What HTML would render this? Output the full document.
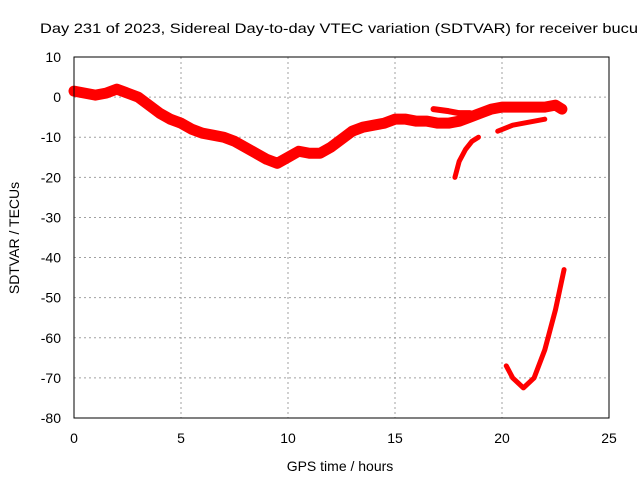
<!DOCTYPE html>
<html><head><meta charset="utf-8"><style>
body{margin:0;background:#fff;}
svg{display:block;font-family:"Liberation Sans",sans-serif;}
</style></head><body>
<svg id="c" width="640" height="480" viewBox="0 0 640 480">
<text x="40" y="33" font-size="14" textLength="598" lengthAdjust="spacingAndGlyphs">Day 231 of 2023, Sidereal Day-to-day VTEC variation (SDTVAR) for receiver bucu</text>
<text x="340" y="471" font-size="14" text-anchor="middle">GPS time / hours</text>
<text transform="translate(19,238) rotate(-90)" font-size="14" text-anchor="middle">SDTVAR / TECUs</text>
<g id="grid"></g><g id="marks"></g>
<rect x="74" y="57" width="535" height="361" fill="none" stroke="#000"/>
</svg>
<script>
const xTicks=[0,5,10,15,20,25];
const yTicks=[10,0,-10,-20,-30,-40,-50,-60,-70,-80];
const mainT=[0,0.5,1,1.5,2,2.5,3,3.5,4,4.5,5,5.5,6,6.5,7,7.5,8,8.5,9,9.5,10,10.5,11,11.5,12,12.5,13,13.5,14,14.5,15,15.5,16,16.5,17,17.5,18,18.5,19,19.5,20,20.5,21,21.5,22,22.5,22.8];
const mainV=[1.5,1,0.5,1,2,1,0,-2,-4,-5.5,-6.5,-8,-9,-9.5,-10,-11,-12.5,-14,-15.5,-16.5,-15,-13.5,-14,-14,-12.5,-10.5,-8.5,-7.5,-7,-6.5,-5.5,-5.5,-6,-6,-6.5,-6.5,-6,-5,-4,-3,-2.5,-2.5,-2.5,-2.5,-2.5,-2,-3];
const upT=[16.8,17.5,18,18.5,19];
const upV=[-3,-3.5,-4,-4,-4.5];
const b1T=[17.8,18,18.3,18.6,18.9];
const b1V=[-20,-16,-13,-11,-10];
const b2T=[19.8,20.5,21,21.5,22];
const b2V=[-8.5,-7,-6.5,-6,-5.5];
const lowT=[20.2,20.5,21,21.5,22,22.5,22.9];
const lowV=[-67,-70,-72.5,-70,-63,-53,-43];
const X=t=>74+t*535/25, Y=v=>57+(10-v)*361/90;
const NS='http://www.w3.org/2000/svg';
const g=document.getElementById('grid'), m=document.getElementById('marks');
function mk(tag,at,p){const e=document.createElementNS(NS,tag);for(const k in at)e.setAttribute(k,at[k]);p.appendChild(e);return e;}
xTicks.forEach(t=>{
 if(t>0&&t<25){const l=mk('line',{x1:X(t),x2:X(t),y1:57,y2:418,stroke:'#a0a0a0','stroke-dasharray':'2,3'},g);
 }
 const tx=mk('text',{x:X(t),y:443,'font-size':14,'text-anchor':'middle'},g);tx.textContent=t;
 
});
yTicks.forEach(v=>{
 if(v<10&&v>-80){const l=mk('line',{x1:74,x2:609,y1:Y(v),y2:Y(v),stroke:'#a0a0a0','stroke-dasharray':'2,3'},g);
 }
 const tx=mk('text',{x:61,y:Y(v)+5,'font-size':14,'text-anchor':'end'},g);tx.textContent=v;
 
});
function series(T,V,w,name){
 const d=T.map((t,i)=>(i?'L':'M')+X(t)+','+Y(V[i])).join('');
 const p=mk('path',{d:d,fill:'none',stroke:'#f00','stroke-width':w,'stroke-linejoin':'round','stroke-linecap':'round'},m);
 
}
series(mainT,mainV,11,'main-series');
series(upT,upV,6,'upper-branch');
series(b1T,b1V,5,'branch-18h');
series(b2T,b2V,5,'branch-20h');
series(lowT,lowV,5,'low-branch');
</script>
</body></html>
